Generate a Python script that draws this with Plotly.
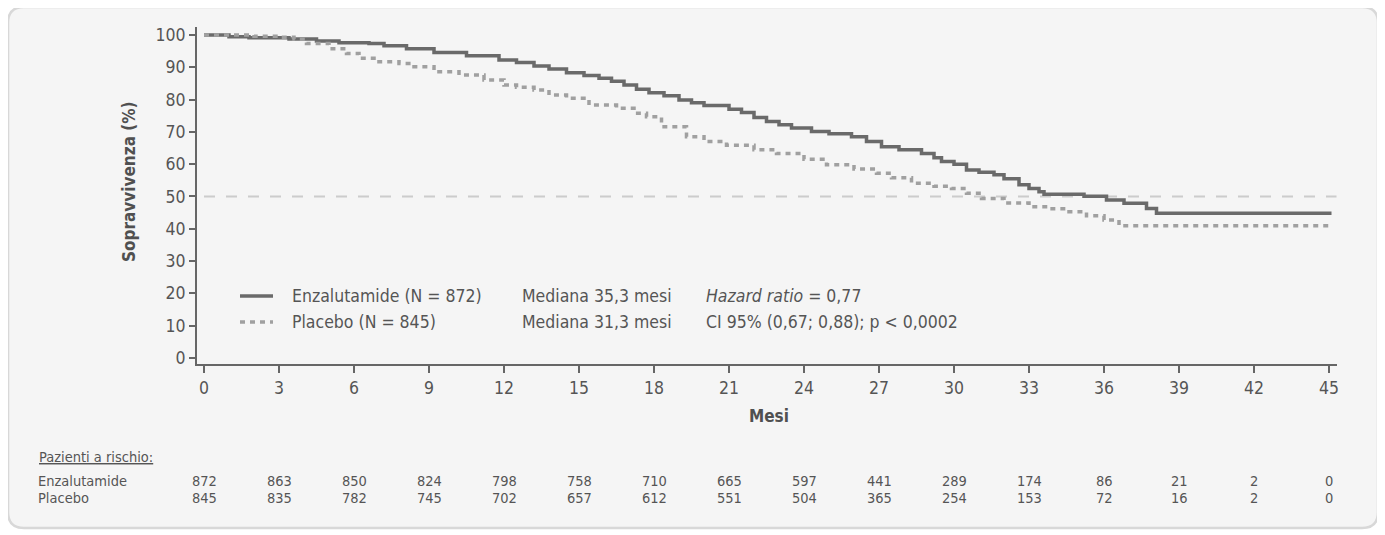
import plotly.graph_objects as go

# ---------------- data ----------------
enz_months = [0, 1, 1.8, 3.4, 4.5, 5.4, 6.6, 7.2, 8.1, 9.2, 10.5, 11.8, 12.5, 13.2, 13.8, 14.5,
              15.2, 15.8, 16.3, 16.8, 17.3, 17.8, 18.4, 19, 19.5, 20, 21, 21.5, 22, 22.5, 23,
              23.5, 24.3, 25, 25.9, 26.5, 27.1, 27.8, 28.7, 29.2, 29.5, 30, 30.5, 31, 31.6, 32,
              32.6, 33, 33.4, 33.6, 35.2, 36.1, 36.8, 37.7, 38.1, 45.1]
enz_surv = [100, 99.5, 99.2, 98.8, 98.2, 97.6, 97.4, 96.7, 95.8, 94.6, 93.6, 92.3, 91.5, 90.4, 89.5, 88.3,
            87.5, 86.6, 85.7, 84.5, 83.2, 82.1, 81.2, 79.9, 79.0, 78.2, 77.0, 76.0, 74.5, 73.2, 72.2,
            71.2, 70.1, 69.4, 68.5, 67.0, 65.4, 64.5, 63.3, 62.0, 60.8, 60.0, 58.2, 57.5, 56.7, 55.5,
            53.6, 52.5, 51.5, 50.7, 50.1, 48.9, 47.9, 46.3, 44.8, 44.8]

pla_months = [0, 1, 2, 3, 3.6, 4.1, 5, 5.7, 6.2, 6.9, 7.8, 8.4, 9.2, 10.2, 11.2, 12, 12.5, 13.2,
              13.8, 14.5, 15.4, 16.5, 17.2, 17.7, 18.3, 19.3, 20, 20.9, 22, 22.9, 24, 24.9, 26,
              26.9, 27.5, 28.3, 29.2, 29.9, 30.5, 31.1, 32, 33, 33.8, 34.6, 35.3, 36, 36.6, 45.1]
pla_surv = [100, 100, 99.6, 99.3, 98.7, 97.4, 95.8, 94.3, 92.8, 91.7, 91.2, 90.2, 88.6, 87.6, 86.1,
            84.5, 83.8, 83.0, 81.4, 80.4, 78.3, 77.3, 75.8, 74.7, 71.6, 68.5, 67.0, 65.9, 64.5, 63.3,
            61.5, 59.8, 58.5, 57.2, 55.8, 54.1, 53.2, 52.5, 51.0, 49.4, 48.0, 46.8, 46.2, 45.3, 44.0,
            42.7, 40.9, 40.9]

risk_months = [0, 3, 6, 9, 12, 15, 18, 21, 24, 27, 30, 33, 36, 39, 42, 45]
risk_enz = [872, 863, 850, 824, 798, 758, 710, 665, 597, 441, 289, 174, 86, 21, 2, 0]
risk_pla = [845, 835, 782, 745, 702, 657, 612, 551, 504, 365, 254, 153, 72, 16, 2, 0]

y_ticks = [0, 10, 20, 30, 40, 50, 60, 70, 80, 90, 100]
x_ticks = risk_months

legend_rows = [
    ["Enzalutamide (N = 872)", "Mediana 35,3 mesi", "<i>Hazard ratio</i> = 0,77"],
    ["Placebo (N = 845)", "Mediana 31,3 mesi", "CI 95% (0,67; 0,88); p < 0,0002"],
]

# ---------------- layout helpers (page pixel coordinates) ----------------
OFF = 8                                # page body margin
W, H = 1385 - OFF, 535 - OFF
PL, PR, PT, PB = 197, 1337, 27, 364    # plot area in page pixels
FONT = "Liberation Sans Narrow, Arial Narrow, DejaVu Sans Condensed, Roboto, sans-serif"
TXT = "#555555"
ENZ_COL = "#6a6a6a"
PLA_COL = "#a0a0a0"


def px(x):
    return (x - PL) / (PR - PL)


def py(y):
    return (PB - y) / (PB - PT)


fig = go.Figure()

fig.add_trace(go.Scatter(x=enz_months, y=enz_surv, mode="lines", line_shape="hv",
                         line=dict(color=ENZ_COL, width=3.5), name="Enzalutamide",
                         showlegend=False))
fig.add_trace(go.Scatter(x=pla_months, y=pla_surv, mode="lines", line_shape="hv",
                         line=dict(color=PLA_COL, width=3.5, dash="5px,5px"), name="Placebo",
                         showlegend=False))

shapes = []
# rounded background box
x0, x1, y0, y1, r = 8, 1378, 7, 528, 16
rx, ry = r / (PR - PL), r / (PB - PT)
X0, X1, Y0, Y1 = px(x0), px(x1), py(y1), py(y0)
path = (f"M {X0+rx},{Y1} L {X1-rx},{Y1} Q {X1},{Y1} {X1},{Y1-ry} L {X1},{Y0+ry} "
        f"Q {X1},{Y0} {X1-rx},{Y0} L {X0+rx},{Y0} Q {X0},{Y0} {X0},{Y0+ry} L {X0},{Y1-ry} "
        f"Q {X0},{Y1} {X0+rx},{Y1} Z")
shapes.append(dict(type="path", path=path, xref="paper", yref="paper", layer="below",
                   fillcolor="#f5f5f5", line=dict(color="#d8d8d8", width=2.5)))
# 50% reference line
shapes.append(dict(type="line", xref="x", yref="y", x0=0, x1=45.3, y0=50, y1=50, layer="below",
                   line=dict(color="#cccccc", width=2, dash="11px,11px")))
# legend samples
shapes.append(dict(type="line", xref="paper", yref="paper", x0=px(240), x1=px(273),
                   y0=py(296), y1=py(296), line=dict(color=ENZ_COL, width=3.5)))
shapes.append(dict(type="line", xref="paper", yref="paper", x0=px(240), x1=px(273),
                   y0=py(322), y1=py(322), line=dict(color=PLA_COL, width=3.5, dash="5px,5px")))

ann = []
col_x = [290, 520, 704]
row_y = [296, 322]
for r_i, row in enumerate(legend_rows):
    for c_i, t in enumerate(row):
        ann.append(dict(text=t, x=px(col_x[c_i]), y=py(row_y[r_i]), xref="paper", yref="paper",
                        xanchor="left", yanchor="middle", showarrow=False,
                        font=dict(size=17.5, color=TXT, family=FONT)))

# axis titles
ann.append(dict(text="Sopravvivenza (%)", x=px(129), y=py(182), xref="paper", yref="paper",
                textangle=-90, showarrow=False, xanchor="center", yanchor="middle",
                font=dict(size=17, color="#505050", family=FONT, weight=600)))
ann.append(dict(text="Mesi", x=px(769), y=py(416), xref="paper", yref="paper",
                showarrow=False, xanchor="center", yanchor="middle",
                font=dict(size=17, color="#505050", family=FONT, weight=600)))

# risk table
RS = 14.5
ann.append(dict(text="<u>Pazienti a rischio:</u>", x=px(37), y=py(457), xref="paper", yref="paper",
                xanchor="left", yanchor="middle", showarrow=False,
                font=dict(size=RS, color=TXT, family=FONT)))
for label, vals, yy in [("Enzalutamide", risk_enz, 481), ("Placebo", risk_pla, 497.5)]:
    ann.append(dict(text=label, x=px(37), y=py(yy), xref="paper", yref="paper",
                    xanchor="left", yanchor="middle", showarrow=False, borderpad=0,
                    font=dict(size=RS, color=TXT, family=FONT)))
    for m, v in zip(risk_months, vals):
        ann.append(dict(text=str(v), x=m, y=py(yy), xref="x", yref="paper",
                        xanchor="center", yanchor="middle", showarrow=False, borderpad=0,
                        font=dict(size=RS, color=TXT, family=FONT)))

fig.update_layout(
    width=W, height=H,
    margin=dict(l=PL - OFF, r=W + OFF - PR, t=PT - OFF, b=H + OFF - PB, pad=0),
    paper_bgcolor="white", plot_bgcolor="rgba(0,0,0,0)",
    shapes=shapes, annotations=ann, showlegend=False,
    font=dict(family=FONT, color=TXT, size=17),
)
fig.update_xaxes(range=[-0.28, 45.32], tickvals=x_ticks, ticks="outside", ticklen=7, tickwidth=1.5,
                 tickcolor="#666666", showline=True, linecolor="#666666", linewidth=2,
                 showgrid=False, zeroline=False, tickfont=dict(size=17.5, color=TXT, family=FONT))
fig.update_yaxes(range=[-1.9, 102.5], tickvals=y_ticks, ticks="outside", ticklen=6, tickwidth=1.5,
                 tickcolor="#666666", showline=True, linecolor="#666666", linewidth=2,
                 showgrid=False, zeroline=False, tickfont=dict(size=17.5, color=TXT, family=FONT))

fig.write_html("out.html")
